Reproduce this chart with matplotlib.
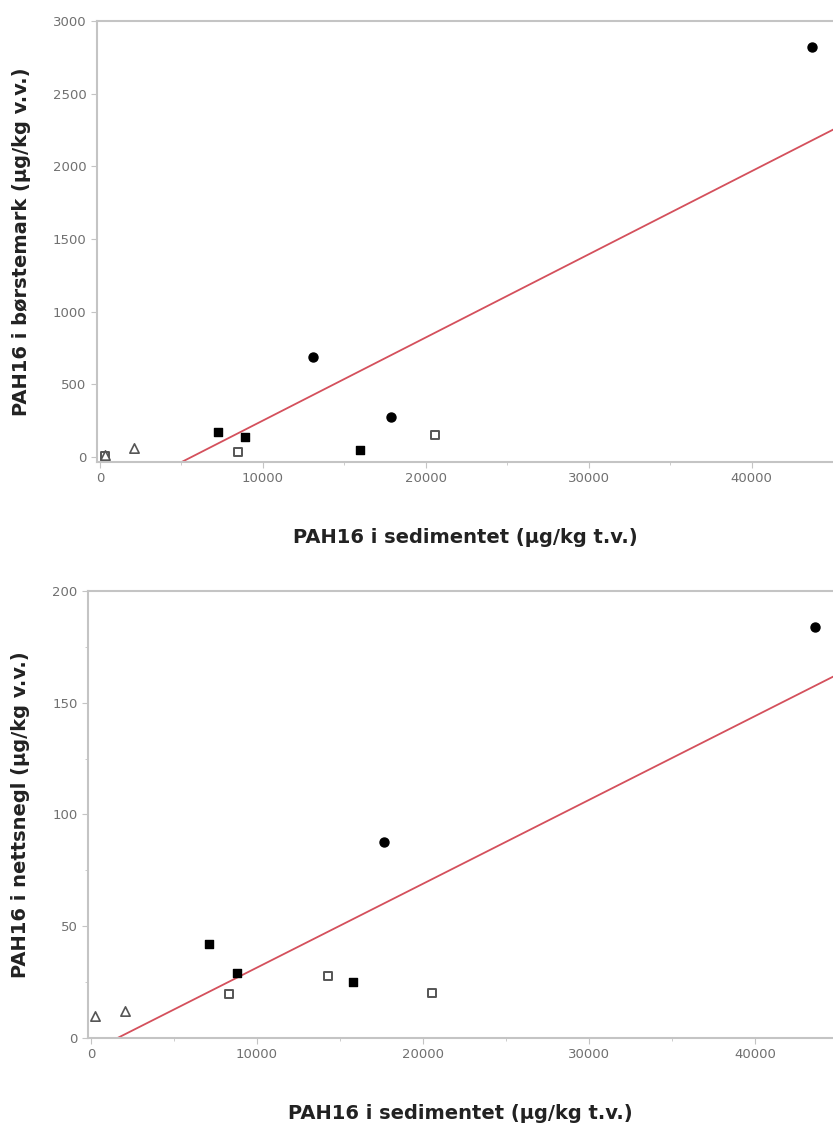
import numpy as np
import matplotlib.pyplot as plt
from matplotlib.ticker import MultipleLocator

# PAH16 i børstemark (top panel)
b_circle_x = [43700, 13050, 17850]
b_circle_y = [2820, 690, 275]
b_square_x = [7240, 8900, 15950]
b_square_y = [172, 135, 45]
b_osquare_x = [8470, 20550, 300]
b_osquare_y = [35, 150, 5]
b_tri_x = [2090, 300]
b_tri_y = [60, 15]
b_fit = (-322, 0.0572)  # intercept, slope

# PAH16 i nettsnegl (bottom panel)
n_circle_x = [43600, 17650]
n_circle_y = [184, 87.5]
n_square_x = [7110, 8790, 15790]
n_square_y = [42, 29, 25]
n_osquare_x = [8330, 14290, 20540]
n_osquare_y = [19.7, 27.7, 20]
n_tri_x = [240, 2050]
n_tri_y = [9.8, 12]
n_fit = (-6, 0.00375)

xlabel = 'PAH16 i sedimentet (µg/kg t.v.)'
ylabels = ['PAH16 i børstemark (µg/kg v.v.)', 'PAH16 i nettsnegl (µg/kg v.v.)']

grey = '#c4c4c4'
tickc = '#707070'
red = '#d4505c'


def panel(ax, cx, cy, sx, sy, ox, oy, tx, ty, fit, ylab):
    ax.axline((0, fit[0]), slope=fit[1], color=red, lw=1.3, zorder=2)
    ax.scatter(cx, cy, marker='o', s=42, color='black', zorder=3)
    ax.scatter(sx, sy, marker='s', s=30, color='black', zorder=3)
    ax.scatter(ox, oy, marker='s', s=28, facecolor='white',
               edgecolor='#555555', linewidth=1.4, zorder=3)
    ax.scatter(tx, ty, marker='^', s=45, facecolor='white',
               edgecolor='#555555', linewidth=1.2, zorder=3)
    for side in ['left', 'bottom', 'top']:
        ax.spines[side].set_color(grey)
        ax.spines[side].set_linewidth(1.5)
    ax.spines['right'].set_visible(False)
    ax.tick_params(which='both', colors=grey, labelcolor=tickc,
                   labelsize=9.5, direction='out')
    ax.tick_params(which='major', length=4)
    ax.tick_params(which='minor', length=2.5)
    ax.tick_params(top=False)
    ax.xaxis.set_major_locator(MultipleLocator(10000))
    ax.xaxis.set_minor_locator(MultipleLocator(5000))
    ax.set_xlabel(xlabel, fontsize=14, fontweight='bold', color='#222222',
                  family='DejaVu Sans', labelpad=31)
    ax.set_ylabel(ylab, fontsize=14, fontweight='bold', color='#222222',
                  family='DejaVu Sans', labelpad=16)


fig = plt.figure(figsize=(8.33, 11.29), dpi=100)

ax1 = fig.add_axes([0.1165, 0.5908, 0.8835, 0.3906])
panel(ax1, b_circle_x, b_circle_y, b_square_x, b_square_y,
      b_osquare_x, b_osquare_y, b_tri_x, b_tri_y, b_fit, ylabels[0])
ax1.set_xlim(-180, 45000)
ax1.set_ylim(-35, 3000)
ax1.yaxis.set_major_locator(MultipleLocator(500))

ax2 = fig.add_axes([0.1056, 0.0806, 0.8944, 0.396])
panel(ax2, n_circle_x, n_circle_y, n_square_x, n_square_y,
      n_osquare_x, n_osquare_y, n_tri_x, n_tri_y, n_fit, ylabels[1])
ax2.set_xlim(-180, 44700)
ax2.set_ylim(0, 200)
ax2.yaxis.set_major_locator(MultipleLocator(50))
ax2.yaxis.set_minor_locator(MultipleLocator(25))

fig.savefig('out.png', dpi=100)
